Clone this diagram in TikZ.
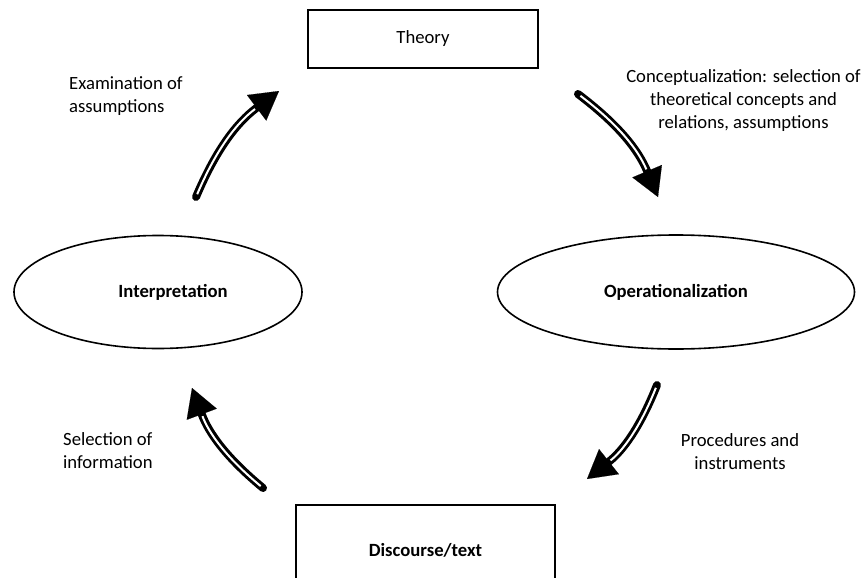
\documentclass[tikz,border=0pt]{standalone}
\usepackage{fontspec}
\setmainfont{Carlito}
\usetikzlibrary{arrows.meta,shapes.geometric}
\newcommand{\lblsize}{\fontsize{18.67}{23}\selectfont}
\tikzset{
  boxnode/.style={draw, line width=1.8pt, minimum width=230pt, minimum height=58pt, inner sep=0pt, font=\lblsize},
  ellnode/.style={draw, ellipse, line width=1.6pt, inner sep=0pt, font=\lblsize\bfseries},
  lbl/.style={inner sep=0pt, font=\lblsize},
  bigarrow/.style={line width=8pt, line cap=round, -{Triangle[length=28pt,width=32pt,line width=0.1pt]}},
  innerline/.style={white, line width=2pt, shorten >=30pt, shorten <=3pt},
}
\begin{document}
\begin{tikzpicture}[x=1pt,y=-1pt]
\useasboundingbox (0,0) rectangle (867,578);
\clip (0,0) rectangle (867,578);
\node[boxnode] (theory) at (423,39) {Theory};
\node[boxnode, minimum width=259pt, minimum height=90pt, font=\lblsize\bfseries] (disc) at (425.5,550) {Discourse/text};
\node[ellnode, minimum width=288pt, minimum height=113pt] (interp) at (158,292) {\hspace*{30pt}Interpretation};
\node[ellnode, minimum width=357pt, minimum height=114pt] (oper) at (676,292) {Operationalization};

\coordinate (a1s) at (196,197);
\coordinate (a1e) at (279,91);
\coordinate (a2s) at (578,94);
\coordinate (a2e) at (658,197);
\coordinate (a3s) at (657,385);
\coordinate (a3e) at (587,479);
\coordinate (a4s) at (263,488);
\coordinate (a4e) at (192,388);

\foreach \s/\e in {a1s/a1e,a2s/a2e,a3s/a3e,a4s/a4e}{
  \draw[bigarrow] (\s) to[bend left=15] (\e);
  \draw[innerline] (\s) to[bend left=15] (\e);
}

\node[lbl, align=left, anchor=west] (t1) at (69,96) {Examination of\\assumptions};
\node[lbl, align=center] (t2) at (743.5,101) {Conceptualization: selection of\\theoretical concepts and\\relations, assumptions};
\node[lbl, align=center] (t3) at (740,452) {Procedures and\\instruments};
\node[lbl, align=left, anchor=west] (t4) at (63,451) {Selection of\\information};
\end{tikzpicture}
\end{document}
